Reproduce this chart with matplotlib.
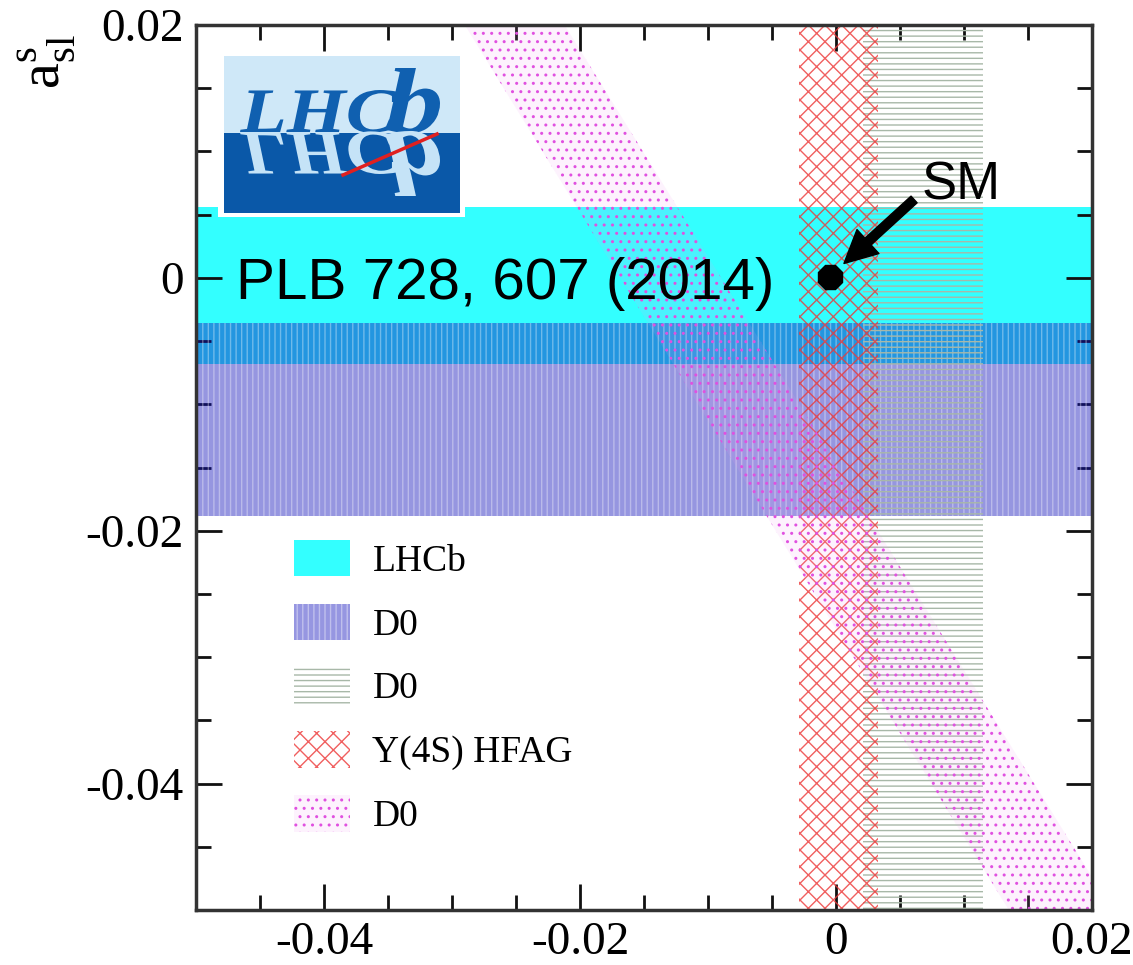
import matplotlib
matplotlib.use("Agg")
import matplotlib.pyplot as plt
from matplotlib.patches import Rectangle, PathPatch, Patch
from matplotlib.textpath import TextPath
from matplotlib.font_manager import FontProperties
from matplotlib.transforms import Affine2D
from matplotlib.ticker import MultipleLocator, FixedLocator

# --- data (a_sl^d on x, a_sl^s on y) ---
lhcb_asls = [-0.0068, 0.0056]          # LHCb a_sl^s band
d0_asls = [-0.0188, -0.0036]           # D0 a_sl^s band
d0_asld = [0.0021, 0.0115]             # D0 a_sl^d band
hfag_asld = [-0.0029, 0.0033]          # Y(4S) HFAG a_sl^d band
dimuon_y = [0.02, -0.05]               # D0 dimuon band, edges at these y
dimuon_xlo = [-0.0290, 0.0135]
dimuon_xhi = [-0.0212, 0.0216]
sm_point = [-0.0005, 0.0001]

xticks = [-0.04, -0.02, 0, 0.02]
xticklabels = ["-0.04", "-0.02", "0", "0.02"]
yticks = [-0.04, -0.02, 0, 0.02]
yticklabels = ["-0.04", "-0.02", "0", "0.02"]
legend_labels = ["LHCb", "D0", "D0", "Y(4S) HFAG", "D0"]

# colours
c_cyan = "#33ffff"
c_blue = (16 / 255, 16 / 255, 186 / 255, 0.44)
c_green = "#a8b8a8"
c_red = (0.93, 0.22, 0.22, 0.8)
c_mag = "#e050e0"
c_mag_face = (0.95, 0.6, 0.95, 0.12)

plt.rcParams["hatch.linewidth"] = 1.0
plt.rcParams["mathtext.fontset"] = "custom"
plt.rcParams["mathtext.rm"] = "Liberation Serif"

W, H = 1133, 965
fig = plt.figure(figsize=(W / 100, H / 100), dpi=100)


def px_box(x0, y0, x1, y1):
    return [x0 / W, 1 - y1 / H, (x1 - x0) / W, (y1 - y0) / H]


ax = fig.add_axes(px_box(196, 25, 1092, 910))
ax.set_xlim(-0.05, 0.02)
ax.set_ylim(-0.05, 0.02)

# bands
ax.axhspan(*lhcb_asls, color=c_cyan, lw=0, zorder=1)
ax.axhspan(*d0_asls, facecolor=c_blue, lw=0, zorder=2)
ax.axhspan(*d0_asls, facecolor="none", edgecolor=(1, 1, 1, 0.35), hatch="|||", lw=0, zorder=2.1)
ax.axvspan(*d0_asld, facecolor="none", edgecolor=c_green, hatch="---", lw=0, zorder=3)
ax.axvspan(*hfag_asld, facecolor="none", edgecolor=c_red, hatch="xx", lw=0, zorder=4)
ax.fill_betweenx(dimuon_y, dimuon_xlo, dimuon_xhi, facecolor=c_mag_face, lw=0, zorder=5)
ax.fill_betweenx(dimuon_y, dimuon_xlo, dimuon_xhi, facecolor="none", edgecolor=c_mag,
                 hatch="..", lw=0, zorder=5.1)

# SM point + arrow
ax.plot(sm_point[0], sm_point[1], marker="8", ms=19, color="black", zorder=8)
ax.annotate("", xy=(sm_point[0], sm_point[1]), xytext=(0.0061, 0.0062),
            arrowprops=dict(arrowstyle="simple,head_length=0.9,head_width=0.9,tail_width=0.25",
                            mutation_scale=26, color="black", shrinkA=0, shrinkB=14),
            zorder=9)
ax.text(0.0067, 0.0062, "SM", fontsize=38, family="Liberation Sans", va="baseline", zorder=9)
ax.text(-0.0469, -0.0017, "PLB 728, 607 (2014)", fontsize=42, family="Liberation Sans",
        va="baseline", zorder=9)

# axes styling
for sp in ax.spines.values():
    sp.set_linewidth(2.5)
    sp.set_color("#333333")
    sp.set_zorder(10)
ax.xaxis.set_major_locator(FixedLocator(xticks))
ax.yaxis.set_major_locator(FixedLocator(yticks))
ax.set_xticklabels(xticklabels)
ax.set_yticklabels(yticklabels)
ax.xaxis.set_minor_locator(MultipleLocator(0.005))
ax.yaxis.set_minor_locator(MultipleLocator(0.005))
ax.tick_params(which="both", direction="in", top=True, right=True, width=2, color="#111111")
ax.tick_params(which="major", length=19)
ax.tick_params(which="minor", length=11)
ax.tick_params(axis="x", labelsize=34, pad=8)
ax.tick_params(axis="y", labelsize=34, pad=9)
for lab in ax.get_xticklabels() + ax.get_yticklabels():
    lab.set_family("Liberation Serif")

fig.text(47 / W, 1 - 62 / H, r"$\mathrm{a}^{\mathrm{s}}_{\mathrm{sl}}$", rotation=90,
         ha="center", va="center", fontsize=42)

# legend
handles = [
    Patch(facecolor=c_cyan, lw=0),
    Patch(facecolor="#9696e1", edgecolor=(1, 1, 1, 0.4), hatch="|||", lw=0),
    Patch(facecolor="none", edgecolor=c_green, hatch="---", lw=0),
    Patch(facecolor="none", edgecolor=c_red, hatch="xx", lw=0),
    Patch(facecolor=c_mag_face, edgecolor=c_mag, hatch="..", lw=0),
]
leg = ax.legend(handles, legend_labels, loc="upper left",
                bbox_to_anchor=((294 - 196) / 896, (910 - 540) / 885),
                frameon=False, borderpad=0, borderaxespad=0,
                prop=FontProperties(family="Liberation Serif", size=27),
                handlelength=1.49, handleheight=1.12, labelspacing=0.66, handletextpad=0.6)
leg.set_zorder(12)

# LHCb logo (pixel coordinates inside its own little axes)
lax = fig.add_axes(px_box(218, 53, 465, 217))
lax.set_xlim(218, 465)
lax.set_ylim(217, 53)
lax.axis("off")
lax.add_patch(Rectangle((218, 53), 247, 164, color="white", lw=0))
lax.add_patch(Rectangle((224, 56), 236, 77, color="#cfe8f8", lw=0))
lax.add_patch(Rectangle((224, 133), 236, 80, color="#0a58a8", lw=0))

fp = FontProperties(family="Liberation Serif", style="italic", weight="bold")
p_lhc = TextPath((0, 0), "LHC", size=1, prop=fp)
p_b = TextPath((0, 0), "b", size=1, prop=fp)
e1 = p_lhc.get_extents()
e2 = p_b.get_extents()
sx1, sy1 = (397 - 240) / e1.width, 42 / e1.y1
sx2, sy2 = (440 - 387) / e2.width, 64 / e2.y1
for sgn, col in [(-1, "#1060b0"), (1, "#c5e3f7")]:
    t1 = Affine2D().translate(-e1.x0, 0).scale(sx1, sgn * sy1).translate(240, 132)
    t2 = Affine2D().translate(-e2.x0, 0).scale(sx2, sgn * sy2).translate(387, 132)
    lax.add_patch(PathPatch(t1.transform_path(p_lhc), color=col, lw=0))
    lax.add_patch(PathPatch(t2.transform_path(p_b), color=col, lw=0))
lax.plot([343, 437], [175, 134], color="#e02020", lw=2.5)

fig.savefig("out.png", dpi=100)
